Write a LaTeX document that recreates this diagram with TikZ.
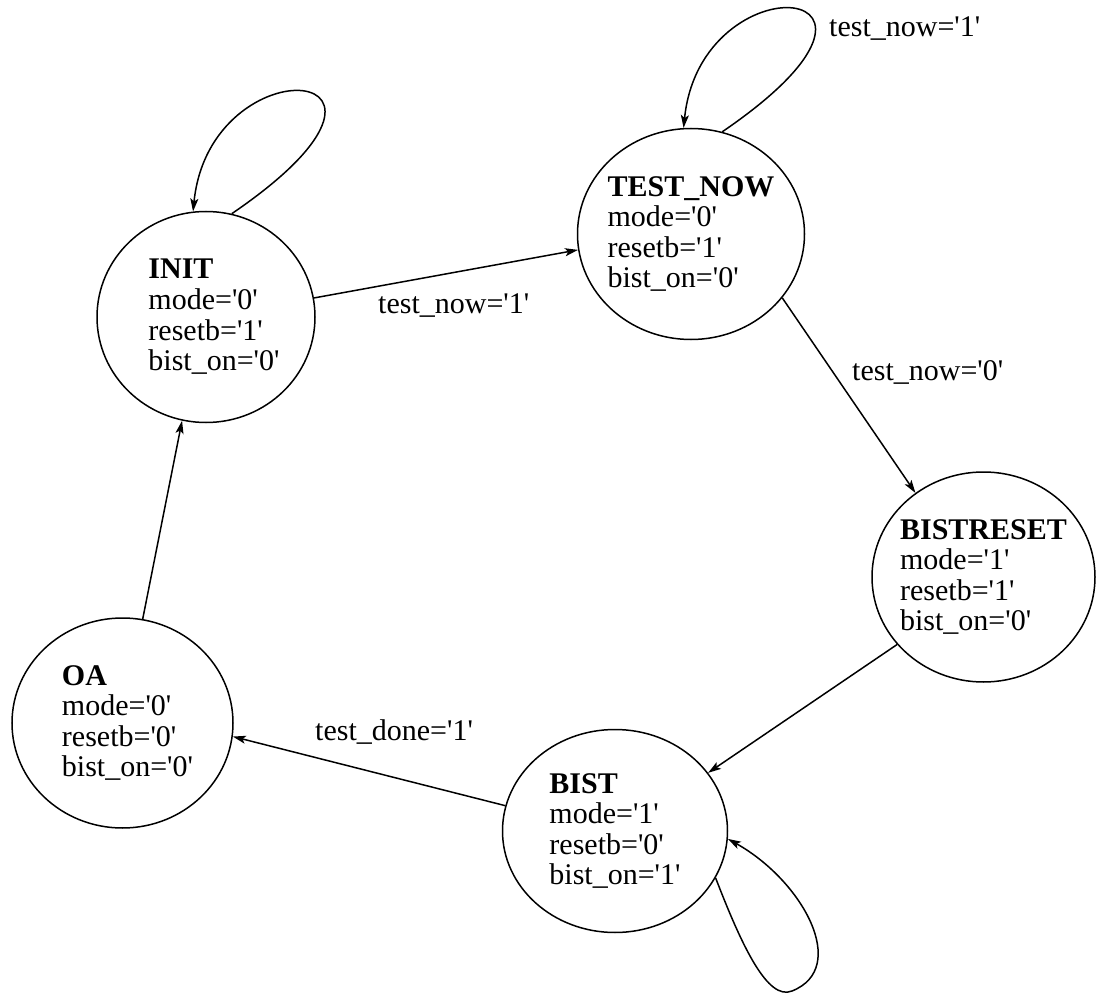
\documentclass[tikz,border=0pt]{standalone}
\usepackage{fontspec}
\setmainfont{Liberation Serif}
\usetikzlibrary{arrows.meta,shapes.geometric}
\newcommand{\sq}{\textquotesingle}
% indent that moves a left-aligned block right by half its width
\newcommand{\ind}[1]{\hspace*{#1}}
\begin{document}
\begin{tikzpicture}[x=1pt,y=-1pt,
  font=\fontsize{30pt}{30.6pt}\selectfont,
  state/.style={draw, ellipse, line width=1.5pt, inner sep=-40pt, align=left},
  trans/.style={-{Stealth[length=13pt,width=8pt,inset=3pt]}, line width=1.5pt},
  guard/.style={anchor=base west, inner sep=0pt}]
\useasboundingbox (0,0) rectangle (1096,995);

% states
\node[state, minimum width=218pt, minimum height=211pt] (init) at (206,317)
  {\ind{16pt}\textbf{INIT}\\\ind{16pt}mode=\sq0\sq\\\ind{16pt}resetb=\sq1\sq\\\ind{16pt}bist\_on=\sq0\sq};
\node[state, minimum width=227pt, minimum height=211pt] (tn) at (691,234)
  {\textbf{TEST\_NOW}\\mode=\sq0\sq\\resetb=\sq1\sq\\bist\_on=\sq0\sq};
\node[state, minimum width=223pt, minimum height=210pt] (br) at (983.5,577)
  {\textbf{BISTRESET}\\mode=\sq1\sq\\resetb=\sq1\sq\\bist\_on=\sq0\sq};
\node[state, minimum width=225pt, minimum height=203pt] (bist) at (615,831)
  {\textbf{BIST}\\mode=\sq1\sq\\resetb=\sq0\sq\\bist\_on=\sq1\sq};
\node[state, minimum width=221pt, minimum height=210pt] (oa) at (122.5,723)
  {\ind{10pt}\textbf{OA}\\\ind{10pt}mode=\sq0\sq\\\ind{10pt}resetb=\sq0\sq\\\ind{10pt}bist\_on=\sq0\sq};

% transitions between states
\draw[trans] (init.10) -- (tn.188);
\draw[trans] (tn.-35.7) -- (br.129);
\draw[trans] (br.218) -- (bist.32);
\draw[trans] (bist.167.7) -- (oa.-7.3);
\draw[trans] (oa.79.4) -- (init.257);

% self loops
\draw[trans] (init.76) .. controls +(223,-152) and +(17,-170) .. (init.97);
\draw[trans] (tn.73) .. controls +(223,-152) and +(17,-170) .. (tn.94);
\coordinate (bistloop) at (792,991);
\draw[trans] (bist.-25.4) .. controls +(27,70) and (768,1001) .. (bistloop)
  .. controls (850,968) and +(75,42) .. (bist.-4.5);

% guard conditions
\node[guard] (g1) at (378,313) {test\_now=\sq1\sq};
\node[guard] (g2) at (829,37) {test\_now=\sq1\sq};
\node[guard] (g3) at (852,380) {test\_now=\sq0\sq};
\node[guard] (g4) at (315,740) {test\_done=\sq1\sq};
\end{tikzpicture}
\end{document}
